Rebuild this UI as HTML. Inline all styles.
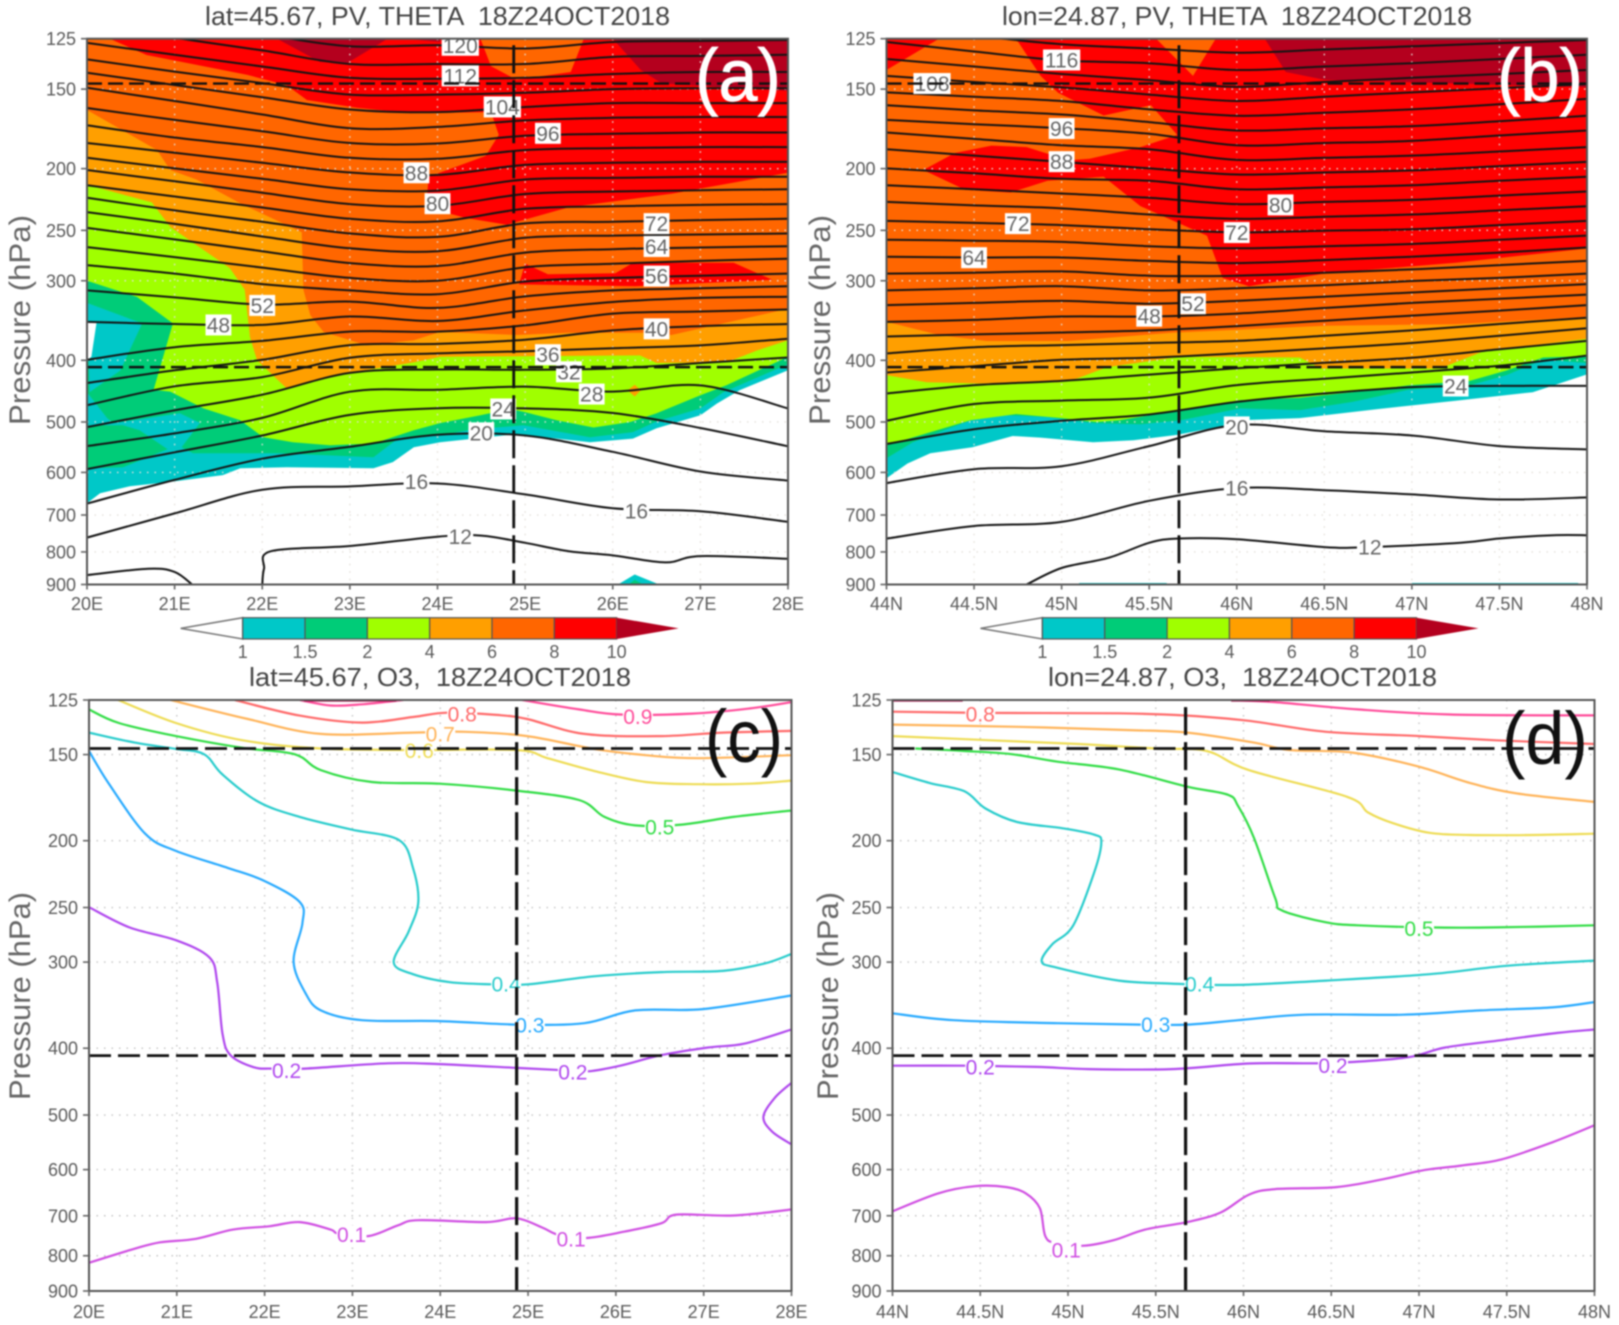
<!DOCTYPE html>
<html lang="en">
<head>
<meta charset="utf-8">
<title>PV, THETA and O3 cross sections 18Z24OCT2018</title>
<style>
html,body{margin:0;padding:0;background:#fff;}
svg{display:block;filter:blur(0.8px);}
text{font-family:"Liberation Sans",sans-serif;white-space:pre;}
.title{font-size:26px;fill:#444;}
.ytitle{font-size:30px;fill:#666;}
.tick{font-size:18px;fill:#5a5a5a;}
.tag{font-size:74px;}
</style>
</head>
<body>
<svg id="figure" xmlns="http://www.w3.org/2000/svg" width="1619" height="1325" viewBox="0 0 1619 1325">
  <rect width="1619" height="1325" fill="#fff"/>
  <defs id="clips"></defs>
  <g id="panelA"></g>
  <g id="panelB"></g>
  <g id="panelC"></g>
  <g id="panelD"></g>

  <text class="title" x="205" y="25" textLength="465" lengthAdjust="spacingAndGlyphs">lat=45.67, PV, THETA  18Z24OCT2018</text>
  <text class="title" x="1002" y="25" textLength="470" lengthAdjust="spacingAndGlyphs">lon=24.87, PV, THETA  18Z24OCT2018</text>
  <text class="title" x="249" y="686" textLength="382" lengthAdjust="spacingAndGlyphs">lat=45.67, O3,  18Z24OCT2018</text>
  <text class="title" x="1048" y="686" textLength="389" lengthAdjust="spacingAndGlyphs">lon=24.87, O3,  18Z24OCT2018</text>

  <text class="ytitle" transform="translate(30,425) rotate(-90)" textLength="210" lengthAdjust="spacingAndGlyphs">Pressure (hPa)</text>
  <text class="ytitle" transform="translate(830,425) rotate(-90)" textLength="210" lengthAdjust="spacingAndGlyphs">Pressure (hPa)</text>
  <text class="ytitle" transform="translate(30,1100) rotate(-90)" textLength="208" lengthAdjust="spacingAndGlyphs">Pressure (hPa)</text>
  <text class="ytitle" transform="translate(838,1100) rotate(-90)" textLength="208" lengthAdjust="spacingAndGlyphs">Pressure (hPa)</text>

  <text class="tag" x="695" y="101" fill="#fff" stroke="#fff" stroke-width="0.7" textLength="86" lengthAdjust="spacingAndGlyphs">(a)</text>
  <text class="tag" x="1497" y="101" fill="#fff" stroke="#fff" stroke-width="0.7" textLength="86" lengthAdjust="spacingAndGlyphs">(b)</text>
  <text class="tag" x="705" y="762" fill="#111" textLength="78" lengthAdjust="spacingAndGlyphs">(c)</text>
  <text class="tag" x="1502" y="764" fill="#111" textLength="86" lengthAdjust="spacingAndGlyphs">(d)</text>
</svg>

<script>
// ---------- shared axis data ----------
const pressureTicks = [125,150,200,250,300,400,500,600,700,800,900];
const lonTicks = [20,21,22,23,24,25,26,27,28];
const lonTickLabels = ['20E','21E','22E','23E','24E','25E','26E','27E','28E'];
const latTicks = [44,44.5,45,45.5,46,46.5,47,47.5,48];
const latTickLabels = ['44N','44.5N','45N','45.5N','46N','46.5N','47N','47.5N','48N'];
const crossLevels = [147,410];
const crossLon = 24.87;
const crossLat = 45.67;

// ---------- PV shading ----------
const pvLevels = ['1','1.5','2','4','6','8','10'];
const pvColors = ['#00c8c8','#00cc78','#a0ff00','#ff9f00','#ff6600','#ff0000','#b4001e'];

// ---------- theta contour levels ----------
const thetaLevels = [120,116,112,108,104,100,96,92,88,84,80,76,72,68,64,60,56,52,48,44,40,36,32,28,24,20,16];

// panel (a): pressure of each theta level at lonTicks
const thetaPressureA = [
 [113,117.6,123.1,128.5,128,129.5,126.5,126,125.6],
 [119,124.6,130.4,137,137,137,133.5,133,132.5],
 [126.9,132.5,138.2,144,144.5,144,142,141,141],
 [134.7,140.8,146.8,153,153,152,150,149.5,149.5],
 [141.4,147.8,154.5,161.5,163,160,157.8,157.8,157.8],
 [149.3,156.6,164.4,172.8,172,168,166.4,165.9,165.9],
 [160.6,167.7,174.7,182.3,182.6,177.6,176.3,175.5,175.5],
 [171,178.7,185,192.3,193,187,185.7,185,185],
 [182.3,188.8,195.8,202.8,204.6,197.3,195.8,195.2,195.2],
 [192.3,199.8,207.5,215.5,216.5,208,206.8,206,206],
 [201,209.4,218.2,227.4,228.8,219.2,217.2,216.2,215.5],
 [212.4,221.2,230.2,239.8,242,231.3,229.1,228,227.4],
 [222.2,232.6,242.4,252.9,256,243.8,242.4,240.9,239.8],
 [234,244.2,255.6,266.8,269.6,256.8,254.8,253.8,252.9],
 [247.8,258.3,269.6,281.4,284.4,271,267.6,266,264.8],
 [265.6,275.4,286.1,296.9,300,285.7,282.2,279.2,277],
 [283.5,292.3,303.6,310.7,315,300.8,296.9,294.6,292.3],
 [310.7,318.6,327,323.5,331,317.5,310.7,308.3,306],
 [348.2,350.8,352,341.4,347,334,324,319.2,317.8],
 [399.3,381.5,372.9,360.6,360.6,352.4,337.8,335.3,332.9],
 [434.2,414.8,399.3,378.6,377,371.3,359,353.5,350.8],
 [470.6,439.5,425,396.3,390.2,387,383,379,370],
 [509.3,479.3,453,418.6,413.6,414,412,404,396],
 [545.5,521,492.6,448.2,445,440,448,438,476],
 [593,558,525,487.4,475.6,476,484,511,546],
 [671.6,616.6,570.9,547,523.5,525,557,598,618],
 [759.6,696,638.8,631.2,624.5,649.7,683.2,690.6,717.7]
];
const theta12A = [[22,900],[22.02,850],[22.1,798],[23,783],[24,757],[24.5,754],[25,774],[25.5,798],[26,810],[26.6,831],[27,812],[28,820]];
const theta8A = [[20,870],[20.7,850],[21,860],[21.2,900]];
const thetaLabelValuesA = ['120','112','104','96','88','80','72','64','56','52','48','40','36','32','28','24','20','16','16','12'];
const thetaLabelLonsA = [24.26,24.26,24.74,25.26,23.76,24,26.5,26.5,26.5,22,21.5,26.5,25.26,25.5,25.76,24.75,24.5,23.76,26.27,24.26];
const thetaLabelPressA = [128,143,160,176,203,227,244,265,295,328,352,357,392,417,452,477,520,620,690,757];

// panel (b): pressure of each theta level at latTicks
const thetaPressureB = [
 [120,123.7,127.5,129.5,131.5,130,128.5,127,125.6],
 [126.5,130.9,135.2,136.6,140,138.2,136.6,134.5,132.5],
 [134.5,138.2,142,145.2,148.8,146.2,144,142,140],
 [143,146.2,149.1,153,156.6,154.2,151.8,149.5,147.3],
 [151.8,154.2,156.6,161.4,165.2,163.4,161.4,158.5,155.4],
 [159,162,164.4,169,174.2,172.8,171.5,168.5,165.2],
 [167.7,170.3,172.8,176.3,183.8,182.3,180.9,177.4,174.2],
 [175.5,179.6,183.8,186.5,193.8,192.3,190.8,188,185],
 [186.5,190.8,195.2,199.8,204.3,202.8,201.3,198.2,195.2],
 [199.8,203.4,207.5,209,215.5,214,212.4,209,206],
 [212.4,215.5,218.8,222.2,227.4,225.6,223.9,220.5,217.2],
 [225.6,228.4,230.9,236.1,239.8,238,236.1,232.6,229.1],
 [241.6,243.4,245.3,249,251.8,250.3,249,245.3,241.6],
 [258.7,259.5,260.7,264.8,266.8,264.8,262.7,258.7,254.8],
 [275,275.8,275.8,279.2,281.4,278.4,275,271,266],
 [292.3,291.4,290,294.6,294.6,291.4,287.9,283.5,279.2],
 [310.7,308.3,306,310.7,308.3,305,300.3,296.9,292.3],
 [327.6,325,322.7,326,322.7,317.8,313,308.3,303.6],
 [348.2,345.6,341.4,341.4,337.8,331.1,325,320.2,315.4],
 [367,364.3,361.7,359,353.5,346.6,340.3,334.2,327.6],
 [390.2,381.5,378.6,375.7,372.9,366,359,350.8,342.9],
 [418,408.6,399.3,396.3,390.2,383.2,375.7,366,356.3],
 [451,437.5,431,421.2,411.7,403.7,396.3,384.4,372.9],
 [497.8,468.5,462.8,457.8,437.5,427.5,418,408,393.3],
 [541.4,513.3,497.8,486.6,464.9,451,440.8,438.8,438.8],
 [623.6,593,586.8,545.5,505.4,517,525,545.5,552.1],
 [762.4,728.4,717.7,664.8,635.1,639.8,649.7,661.8,656.8]
];
const theta12B = [[44.8,900],[45,848],[45.27,817],[45.5,774],[45.67,762],[46,764],[46.5,786],[46.76,786],[47.28,774],[47.5,762],[47.81,753],[48,753]];
const thetaLabelValuesB = ['116','108','96','88','80','72','72','64','52','48','24','20','16','12'];
const thetaLabelLatsB = [45,44.26,45,45,46.25,44.75,46,44.5,45.75,45.5,47.25,46,46,46.76];
const thetaLabelPressB = [135,147,173,195,228,244,252,276,326,341,439,509,635,786];

// panel (a): PV shaded regions as [lon, pressure] outlines
const pvTealA = [[20,671],[20.15,647],[20.49,631],[20.95,621],[21.55,606],[21.75,591],[22.28,589],[23.27,591],[23.49,578],[23.73,548],[24.03,538],[24.87,523],[25.36,531],[25.74,538],[26.23,531],[26.5,511.5],[27,488],[27.19,467.6],[27.45,445.6],[28,414.6],[28,125],[20,125]];
const pvGreenA = [[20,591],[20.41,589],[20.92,552],[21.08,548],[21.21,560],[22.2,560],[23.27,568],[23.57,528],[24.03,524.5],[24.41,513.5],[24.98,506],[25.36,517],[25.74,528.5],[26.23,518.6],[26.5,499],[27,476],[27.26,449],[28,405.6],[28,125],[20,125]];
const pvTealPatchUpperA = [[20,325],[20.63,350],[20.38,415],[20.03,449]];
const pvWhiteSliverA = [[20.01,347.3],[20.11,348.5],[20.05,395],[20.01,399]];
const pvTealStripA = [[20,449],[20.23,493],[20.3,502],[20.41,506],[20,506]];
const pvTealPatchLowerA = [[20.3,502],[21.06,484.5],[21.29,501.7],[21.08,548],[20.92,552],[20.6,515],[20.41,506]];
const pvLimeA = [[20,300],[20.57,318],[20.98,350],[20.76,445],[20.95,448],[21.33,476],[21.75,497],[22.01,528],[22.35,538],[22.77,544],[23.27,540.5],[23.73,515],[24.03,502],[24.49,488],[24.83,477],[24.98,482],[25.36,497],[25.78,510],[26.2,500],[26.5,484.5],[27,454],[27.3,437.6],[28,395],[28,125],[20,125]];
const pvOrangeA = [[20,212],[20.74,226],[20.95,246.9],[21.63,286.6],[21.8,310],[21.86,368],[21.94,400],[22.28,443],[22.97,419],[23.73,403],[24.03,395],[26.31,393],[26.5,404],[27.3,403],[27.65,386],[28,372],[28,125],[20,125]];
const pvDarkOrangeA = [[20,161.8],[20.8,187],[20.95,201],[21.25,208],[21.75,226.8],[22.45,251.7],[22.47,310],[22.55,340],[22.7,361],[23.19,379],[23.73,372],[24.03,361],[24.9,365],[25.5,362],[26.38,362],[26.67,365],[28,332],[28,125],[20,125]];
const pvRedA = [[20.26,125],[20.68,132.6],[21.83,142.5],[22.28,147.9],[22.51,156],[23.08,160.5],[23.69,163.6],[24.61,163],[24.7,177],[24.55,191],[23.9,206],[23.87,230],[24.32,239],[24.79,245],[25.5,230],[26.67,219],[28,203],[28,125],[25.67,125],[25.52,141],[24.9,145],[24.61,138],[24.49,125]];
const pvRedPatchA = [[24.93,304],[25,282],[25.26,293],[26.03,292],[26.23,281],[27.38,281],[27.82,299],[26.26,306]];
const pvDarkLeftA = [[22.17,125],[22.66,136],[22.97,136.5],[23.43,125]];
const pvDarkSliverA = [[23.63,125],[24.03,126.5],[24.03,125]];
const pvDarkRightA = [[26,125],[26.32,140],[26.56,147],[28,151],[28,125]];
const pvOrangeDotA = [[26.25,437],[26.32,446],[26.25,456],[26.17,446]];
const pvBlipTealA = [[26.06,900],[26.25,868],[26.53,900]];
const pvBlipGreenA = [[26.18,900],[26.25,885],[26.35,900]];
const pvRegionsA = [[0,pvTealA],[1,pvGreenA],[0,pvTealPatchUpperA],[-1,pvWhiteSliverA],[0,pvTealStripA],[0,pvTealPatchLowerA],[2,pvLimeA],[3,pvOrangeA],[4,pvDarkOrangeA],[5,pvRedA],[5,pvRedPatchA],[6,pvDarkLeftA],[6,pvDarkSliverA],[6,pvDarkRightA],[3,pvOrangeDotA],[0,pvBlipTealA],[1,pvBlipGreenA]];

// panel (b): PV shaded regions as [lat, pressure] outlines
const pvTealB = [[44,613],[44.12,581],[44.25,560],[44.49,548],[44.72,526],[44.88,529],[45.18,538],[45.41,534],[45.66,524],[45.94,506],[46.02,497],[46.36,493],[46.81,477],[47.25,463],[47.69,449],[48,421],[48,125],[44,125]];
const pvGreenB = [[44,570],[44.15,538],[44.48,497],[44.69,488],[44.92,491],[45.18,502],[45.45,504],[45.68,497],[46.02,476],[46.36,479],[46.66,465],[46.98,445],[47.33,438],[47.54,422],[47.75,399],[48,404],[48,125],[44,125]];
const pvLimeB = [[44,544],[44.48,497],[44.74,486],[45,493],[45.2,500],[45.33,497],[45.68,479],[46.02,462],[46.36,458],[46.66,449],[46.98,438],[47.33,431],[47.54,415],[47.75,396],[48,394],[48,125],[44,125]];
const pvOrangeB = [[44,422],[44.23,433],[44.53,435],[44.99,433],[45.09,427],[45.26,410],[45.68,395],[46.36,396],[46.48,412],[47.16,412],[47.4,388],[48,370],[48,125],[44,125]];
const pvDarkOrangeB = [[44,348],[44.3,365],[44.57,373],[45.04,373],[45.63,362],[46.51,353],[47.25,351],[48,342],[48,125],[44,125]];
const pvRedCornerB = [[44,140],[44.3,125],[44,125]];
const pvRedB = [[44.74,125],[44.88,143],[44.98,152],[45.24,165],[45.51,159],[45.66,177],[45.45,185],[45.16,193],[45.04,194],[44.8,185],[44.6,184],[44.39,189],[44.21,201],[44.45,216],[44.71,218],[44.92,209],[45.24,206],[45.45,229],[45.83,255],[45.92,297],[46.07,306],[46.51,292],[47.25,281],[48,267],[48,125],[45.88,125],[45.75,143],[45.54,125]];
const pvDarkB = [[46.16,125],[46.28,141],[46.5,145],[48,149],[48,125]];
const pvStripLeftB = [[45.1,900],[45.1,895],[45.6,895],[45.6,900]];
const pvStripRightB = [[47,900],[47,895],[47.95,895],[47.95,900]];
const pvRegionsB = [[0,pvTealB],[1,pvGreenB],[2,pvLimeB],[3,pvOrangeB],[4,pvDarkOrangeB],[5,pvRedCornerB],[5,pvRedB],[6,pvDarkB],[0,pvStripLeftB],[0,pvStripRightB]];

// ---------- ozone contour series ----------
const o3Colors = {'0.1':'#d04fe2','0.2':'#b048ee','0.3':'#28aaff','0.4':'#28cccc','0.5':'#32dd46','0.6':'#eedc55','0.7':'#ffb45a','0.8':'#ff6a6a','0.9':'#ff4c9a','1.0':'#aa0044'};

// panel (c): [lon, pressure]
const o3C01 = [[20,819],[20.52,781.5],[20.81,765],[21.22,756],[21.64,733],[22.05,725],[22.4,715],[22.75,733],[22.84,743],[23.19,749],[23.52,722.6],[23.75,710.4],[24.52,715],[24.87,706],[25.16,728],[25.34,745.6],[25.66,754],[26.1,738],[26.52,717.7],[26.69,697.4],[27.34,699.4],[28,685.6]];
const o3C02 = [[20,249.7],[20.46,267.2],[20.99,278.8],[21.37,295.2],[21.46,320.8],[21.52,381.2],[21.61,409.3],[21.87,426],[22.08,428.2],[22.46,428.2],[23.4,420.6],[23.99,421.8],[24.87,427.2],[25.37,430.3],[25.69,432],[26.05,424],[26.52,409.3],[27.05,399],[27.46,394],[28,375.8]];
const o3C02Right = [[28,448.9],[27.81,472],[27.68,503],[27.78,528.6],[28,551.5]];
const o3C03 = [[20,148.2],[20.22,164.9],[20.64,195.4],[20.99,206.9],[21.58,219],[21.99,228.5],[22.4,245.4],[22.43,263.5],[22.33,299.3],[22.46,331.8],[22.64,352.5],[23.11,364.3],[23.99,365.3],[24.87,369.6],[25.64,367.9],[26.22,352.5],[26.99,351],[28,335.4]];
const o3C04 = [[20,139.4],[20.52,144.1],[20.99,147.2],[21.31,149.8],[21.52,160.3],[21.93,175.7],[22.4,184.7],[22.99,192.7],[23.53,199.6],[23.69,219],[23.75,245.4],[23.64,271],[23.47,300.2],[23.69,312.4],[24.11,320.8],[24.58,323.1],[25,323.1],[25.75,314.6],[26.52,310.2],[27.22,308.9],[27.69,301.5],[28,291.9]];
const o3C05 = [[20,129],[20.34,135],[20.99,141],[21.75,146.7],[22.34,149.8],[22.64,158],[23.22,164.4],[23.99,165.3],[24.87,169.2],[25.58,174.6],[25.87,184.7],[26.22,190],[26.75,189.5],[27.34,184.7],[28,180.8]];
const o3C06 = [[20.33,125],[20.99,135],[21.75,143],[22.64,147],[23.69,147.7],[24.87,147.7],[25.22,151.8],[25.75,158.4],[26.34,164.4],[26.93,165.6],[27.52,165.3],[28,163.6]];
const o3C07 = [[20.93,125],[21.81,133.2],[22.64,140],[23.69,139.4],[24.28,139],[24.99,141],[25.75,147.2],[26.34,150.3],[26.93,151.8],[28,150.3]];
const o3C08 = [[21.66,125],[22.4,131.7],[23.11,134.8],[23.69,132.3],[24.08,130.4],[24.64,131.4],[24.99,133.2],[25.64,140],[26.52,141],[27.22,139.4],[28,138.6]];
const o3C09Left = [[22.4,125],[22.75,127.3],[23.11,126.8],[23.58,125]];
const o3C09Right = [[24.93,125],[25.58,129],[26.05,131.2],[26.87,130.8],[27.52,128.6],[28,125.9]];
const o3C10Left = [[22.45,125.2],[23.5,125.2]];
const o3SeriesC = [['0.1',o3C01],['0.2',o3C02],['0.2',o3C02Right],['0.3',o3C03],['0.4',o3C04],['0.5',o3C05],['0.6',o3C06],['0.7',o3C07],['0.8',o3C08],['0.9',o3C09Left],['0.9',o3C09Right],['1.0',o3C10Left]];
const o3LabelValuesC = ['0.1','0.1','0.2','0.2','0.3','0.4','0.5','0.6','0.7','0.8','0.9'];
const o3LabelLonsC = [22.99,25.49,22.25,25.51,25.02,24.75,26.5,23.76,24,24.25,26.25];
const o3LabelPressC = [745,756,431,433,370,323,191,148,140,131,132];

// panel (d): [lat, pressure]
const o3D01 = [[44,689.6],[44.26,649.6],[44.47,634.1],[44.65,636],[44.76,649.6],[44.84,682.7],[44.87,748.8],[44.93,767],[45.09,773.7],[45.26,759.5],[45.44,733],[45.68,715],[45.87,692.5],[46.03,652.4],[46.18,640.4],[46.53,636],[46.79,620],[47.03,601],[47.24,592],[47.47,579.8],[47.76,547.7],[48,517.4]];
const o3D02 = [[44,424],[44.41,424],[44.82,425.8],[45.12,428.9],[45.59,428.9],[46.03,421],[46.41,420.6],[46.62,418.8],[46.94,412.2],[47.15,399],[47.47,389.4],[47.79,380],[48,375.8]];
const o3D03 = [[44,356],[44.35,364.3],[44.94,367.9],[45.41,369.6],[45.68,369.6],[45.97,364.3],[46.35,357.6],[46.91,357.6],[47.35,352.5],[47.76,349],[48,342.9]];
const o3D04 = [[44,159],[44.21,164.9],[44.41,169.6],[44.53,179.6],[44.71,187.9],[44.97,191.9],[45.15,196],[45.19,201],[45.15,222.1],[45.03,265.3],[44.91,282.8],[44.85,299.3],[44.94,305.8],[45.29,319.1],[45.59,322.3],[45.97,323.7],[46.47,319.1],[47.06,312.4],[47.5,303.7],[48,298.5]];
const o3D05 = [[44.13,147],[44.41,148.2],[44.68,149.8],[44.94,153.6],[45.29,157.6],[45.68,167],[45.91,171.5],[45.97,178.2],[46.06,198.2],[46.18,242],[46.22,252.5],[46.47,262.7],[46.65,265.3],[47.06,267.2],[47.44,267.2],[48,265.3]];
const o3D06 = [[44,141],[44.56,143],[45.06,144.8],[45.5,147],[45.79,148.2],[46.03,158],[46.59,172.7],[46.71,182],[46.85,188.6],[47.06,194.8],[47.29,196.2],[47.65,196.2],[48,195.4]];
const o3D07 = [[44,135.7],[44.71,136.7],[45.35,138.2],[45.68,139.4],[46.06,144.1],[46.26,147.7],[46.62,149],[47,156.2],[47.29,164.9],[47.56,170.8],[48,175.7]];
const o3D08 = [[44,130],[44.5,130.5],[45.29,130.7],[45.68,131.7],[46.03,134],[46.47,139],[47,141],[47.44,143],[48,144.8]];
const o3D09 = [[45.93,125],[46.18,125.9],[46.65,129],[47.18,131.2],[48,131.6]];
const o3D10Left = [[44,125.2],[44.4,125.2]];
const o3D10Right = [[45.93,125.2],[46.15,125.2]];
const o3SeriesD = [['0.1',o3D01],['0.2',o3D02],['0.3',o3D03],['0.4',o3D04],['0.5',o3D05],['0.6',o3D06],['0.7',o3D07],['0.8',o3D08],['0.9',o3D09],['1.0',o3D10Left],['1.0',o3D10Right]];
const o3LabelValuesD = ['0.1','0.2','0.2','0.3','0.4','0.5','0.8'];
const o3LabelLatsD = [44.99,44.5,46.51,45.5,45.75,47,44.5];
const o3LabelPressD = [785,426,424,369.6,323,268,131];

// ---------- helpers ----------
const NS = 'http://www.w3.org/2000/svg';
function make(tag, parent, attrs, txt){
  const el = document.createElementNS(NS, tag);
  for (const k in attrs) el.setAttribute(k, attrs[k]);
  if (txt !== undefined) el.textContent = txt;
  parent.appendChild(el);
  return el;
}
function makeAxes(x0, x1, y0, y1, dMin, dMax){
  const logRange = Math.log(900/125);
  return {
    x0, x1, y0, y1,
    x: v => x0 + (x1-x0)*(v-dMin)/(dMax-dMin),
    y: p => y0 + (y1-y0)*Math.log(p/125)/logRange
  };
}
function smoothPath(pts, ax){
  const P = pts.map(q => [ax.x(q[0]), ax.y(q[1])]);
  let d = 'M' + P[0][0].toFixed(1) + ' ' + P[0][1].toFixed(1);
  for (let i=0;i<P.length-1;i++){
    const a = P[Math.max(i-1,0)], b = P[i], c = P[i+1], e = P[Math.min(i+2,P.length-1)];
    const t = 1/6;
    d += 'C'+(b[0]+(c[0]-a[0])*t).toFixed(1)+' '+(b[1]+(c[1]-a[1])*t).toFixed(1)+' '
           +(c[0]-(e[0]-b[0])*t).toFixed(1)+' '+(c[1]-(e[1]-b[1])*t).toFixed(1)+' '
           +c[0].toFixed(1)+' '+c[1].toFixed(1);
  }
  return d;
}
function drawClip(id, ax){
  const clip = make('clipPath', document.getElementById('clips'), {id});
  make('rect', clip, {x:ax.x0, y:ax.y0, width:ax.x1-ax.x0, height:ax.y1-ax.y0});
}
function drawRegions(g, regions, ax){
  regions.forEach(r => {
    const el = make('polygon', g, {
      points: r[1].map(q => ax.x(q[0]).toFixed(1)+','+ax.y(q[1]).toFixed(1)).join(' '),
      fill: r[0] < 0 ? '#fff' : pvColors[r[0]]
    });
    
    
  });
}
function drawGrid(g, ax, xTicks, color){
  pressureTicks.slice(1,-1).forEach(p => {
    const el = make('line', g, {x1:ax.x0, x2:ax.x1, y1:ax.y(p), y2:ax.y(p), stroke:color, 'stroke-width':1.4, 'stroke-dasharray':'1.5 6'});
    
    
  });
  xTicks.slice(1,-1).forEach(v => {
    const el = make('line', g, {x1:ax.x(v), x2:ax.x(v), y1:ax.y0, y2:ax.y1, stroke:color, 'stroke-width':1.4, 'stroke-dasharray':'1.5 6'});
    
    
  });
}
function drawThetaRows(g, rows, xs, ax){
  rows.forEach((row, i) => {
    const el = make('path', g, {d:smoothPath(row.map((p,j) => [xs[j],p]), ax), fill:'none', stroke:'#141414', 'stroke-width':2});
    
    
  });
}
function drawThetaExtra(g, pts, ax, level){
  const el = make('path', g, {d:smoothPath(pts, ax), fill:'none', stroke:'#141414', 'stroke-width':2});
  
  
}
function drawThetaLabels(g, values, xs, ps, ax){
  values.forEach((t,i) => {
    const cx = ax.x(xs[i]), cy = ax.y(ps[i]), w = t.length*11.4+3;
    const box = make('rect', g, {x:cx-w/2, y:cy-10.5, width:w, height:21, fill:'#fff'});
    
    
    const lab = make('text', g, {x:cx, y:cy+7.5, 'text-anchor':'middle', 'font-size':21, fill:'#666'}, t);
    
    
  });
}
function drawO3Series(g, series, ax){
  series.forEach(s => {
    const el = make('path', g, {d:smoothPath(s[1], ax), fill:'none', stroke:o3Colors[s[0]], 'stroke-width':2.2});
    
    
  });
}
function drawO3Labels(g, values, xs, ps, ax){
  values.forEach((t,i) => {
    const cx = ax.x(xs[i]), cy = ax.y(ps[i]);
    const box = make('rect', g, {x:cx-15, y:cy-9, width:30, height:18, fill:'#fff'});
    
    
    const lab = make('text', g, {x:cx, y:cy+7.5, 'text-anchor':'middle', 'font-size':21, fill:o3Colors[t]}, t);
    
    
  });
}
function drawCrosshair(g, ax, crossX, w, dash, vDash){
  crossLevels.forEach(p => {
    const el = make('line', g, {x1:ax.x0, x2:ax.x1, y1:ax.y(p), y2:ax.y(p), stroke:'#111', 'stroke-width':w, 'stroke-dasharray':dash});
    
    
  });
  const v = make('line', g, {x1:ax.x(crossX), x2:ax.x(crossX), y1:ax.y(128), y2:ax.y1, stroke:'#111', 'stroke-width':w+0.4, 'stroke-dasharray':vDash});
  
  
}
function drawFrame(g, ax, xTicks, xLabels, labelY){
  const fr = make('rect', g, {x:ax.x0, y:ax.y0, width:ax.x1-ax.x0, height:ax.y1-ax.y0, fill:'none', stroke:'#555', 'stroke-width':2});
  
  
  pressureTicks.forEach(p => {
    const tick = make('line', g, {x1:ax.x0-6, x2:ax.x0, y1:ax.y(p), y2:ax.y(p), stroke:'#666', 'stroke-width':1.6});
    
    
    const lab = make('text', g, {x:ax.x0-11, y:ax.y(p)+6.5, 'text-anchor':'end', class:'tick'}, String(p));
    
    
  });
  xTicks.forEach((v,i) => {
    const tick = make('line', g, {x1:ax.x(v), x2:ax.x(v), y1:ax.y1, y2:ax.y1+5, stroke:'#666', 'stroke-width':1.6});
    
    
    const lab = make('text', g, {x:ax.x(v), y:labelY, 'text-anchor':'middle', class:'tick'}, xLabels[i]);
    
    
  });
}
function drawColorbar(g, left, tip, right, top, bottom){
  const mid = (top+bottom)/2, w = (right-left)/6;
  const lo = make('polygon', g, {points:`${tip},${mid} ${left},${top} ${left},${bottom}`, fill:'#fff', stroke:'#777', 'stroke-width':1.5});
  
  
  pvColors.slice(0,6).forEach((c,i) => {
    const box = make('rect', g, {x:left+i*w, y:top, width:w, height:bottom-top, fill:c, stroke:'#555', 'stroke-width':1.2});
    
    
  });
  const hi = make('polygon', g, {points:`${right},${top} ${right},${bottom} ${right+62},${mid}`, fill:pvColors[6]});
  
  
  pvLevels.forEach((t,i) => {
    const lab = make('text', g, {x:left+i*w, y:bottom+19, 'text-anchor':'middle', class:'tick'}, t);
    
    
  });
}
function buildPanel(id, clipId, ax, xTicks, xLabels, labelY, crossX, painter, w, dash, vDash, gridColor){
  const root = document.getElementById(id);
  drawClip(clipId, ax);
  const plot = make('g', root, {'clip-path':`url(#${clipId})`});
  
  
  painter(plot, () => drawGrid(plot, ax, xTicks, gridColor));
  drawCrosshair(plot, ax, crossX, w, dash, vDash);
  drawFrame(root, ax, xTicks, xLabels, labelY);
  return root;
}

// ---------- build ----------
const axA = makeAxes(87, 788, 38.7, 584.5, 20, 28);
const axB = makeAxes(886.5, 1587, 38.7, 584.5, 44, 48);
const axC = makeAxes(89, 791.5, 700, 1291, 20, 28);
const axD = makeAxes(892.5, 1594.5, 700, 1291, 44, 48);

const rootA = buildPanel('panelA','clipA',axA,lonTicks,lonTickLabels,610,crossLon,(g,grid) => {
  drawRegions(g, pvRegionsA, axA);
  grid();
  drawThetaRows(g, thetaPressureA, lonTicks, axA);
  drawThetaExtra(g, theta12A, axA, 12);
  drawThetaExtra(g, theta8A, axA, 8);
  drawThetaLabels(g, thetaLabelValuesA, thetaLabelLonsA, thetaLabelPressA, axA);
}, 2.4, '15 6', '28 7', '#e4e0da');
drawColorbar(rootA, 242.7, 180.7, 616.7, 617.7, 639);

const rootB = buildPanel('panelB','clipB',axB,latTicks,latTickLabels,610,crossLat,(g,grid) => {
  drawRegions(g, pvRegionsB, axB);
  grid();
  drawThetaRows(g, thetaPressureB, latTicks, axB);
  drawThetaExtra(g, theta12B, axB, 12);
  drawThetaLabels(g, thetaLabelValuesB, thetaLabelLatsB, thetaLabelPressB, axB);
}, 2.4, '15 6', '28 7', '#e4e0da');
drawColorbar(rootB, 1042.4, 980.5, 1416.5, 617.7, 639);

buildPanel('panelC','clipC',axC,lonTicks,lonTickLabels,1318,crossLon,(g,grid) => {
  grid();
  drawO3Series(g, o3SeriesC, axC);
  drawO3Labels(g, o3LabelValuesC, o3LabelLonsC, o3LabelPressC, axC);
}, 2.8, '22 7', '28 7', '#c4c4c4');

buildPanel('panelD','clipD',axD,latTicks,latTickLabels,1318,crossLat,(g,grid) => {
  grid();
  drawO3Series(g, o3SeriesD, axD);
  drawO3Labels(g, o3LabelValuesD, o3LabelLatsD, o3LabelPressD, axD);
}, 2.8, '22 7', '28 7', '#c4c4c4');
</script>
</body>
</html>
